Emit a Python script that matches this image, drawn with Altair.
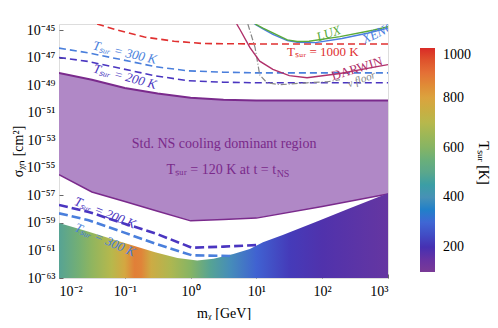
import altair as alt
import pandas as pd

# ---------------- data (log10 values) ----------------
# purple "standard NS cooling" region, sampled on common masses
pur_lx = [-2, -1.5, -1, -0.5, 0, 0.5, 1, 2, 3]
pur_hi = [-48.1, -48.6, -49.2, -49.6, -49.9, -50.05, -50.1, -50.1, -50.1]
pur_lo = [-55.5, -56.75, -57.45, -58.15, -58.85, -58.75, -58.65, -57.8, -56.9]

# coloured (temperature) region upper boundary
grad_lx = [-2, -1.56, -1.04, -0.54, -0.2, 0.1, 0.35, 0.65, 0.9, 1.1, 1.4, 1.92, 2.42, 3.0]
grad_ly = [-59.0, -59.63, -60.4, -61.13, -61.55, -61.72, -61.6, -61.25, -60.9, -60.4,
           -59.87, -58.9, -57.93, -56.85]
# surface temperature along the mass axis inside that region
t_lx = [-2, -1.7, -1.5, -1.2, -1.0, -0.85, -0.75, -0.6, -0.3, 0, 0.3, 0.6, 1.0, 1.5, 2.0, 3.0]
t_val = [480, 560, 620, 700, 780, 870, 860, 760, 680, 600, 480, 390, 290, 220, 180, 140]

# dashed isotherms
red1000_lx = [-1.42, -1.15, -0.7, -0.25, 0.2, 1, 3]
red1000_ly = [-44.55, -44.95, -45.5, -45.8, -45.97, -46.0, -46.0]
up300_lx = [-2, -1.56, -1.04, -0.54, -0.04, 0.5, 1, 3]
up300_ly = [-46.3, -46.64, -47.15, -47.65, -47.95, -48.05, -48.1, -48.1]
up200_lx = [-2, -1.56, -1.04, -0.54, -0.04, 0.5, 1, 3]
up200_ly = [-46.98, -47.27, -47.8, -48.31, -48.67, -48.78, -48.82, -48.82]
lo200_lx = [-2, -1.55, -1.04, -0.54, 0.02, 0.5, 1.05]
lo200_ly = [-57.7, -58.2, -59.0, -59.75, -60.8, -60.72, -60.6]
lo300_lx = [-2, -1.55, -1.04, -0.54, 0.02, 0.6]
lo300_ly = [-58.3, -58.8, -59.65, -60.5, -61.35, -61.4]

# direct detection curves
lux_lx = [0.98, 1.1, 1.25, 1.47, 1.62, 1.8, 2.27, 2.77, 3.0]
lux_ly = [-44.55, -44.85, -45.2, -45.7, -45.82, -45.8, -45.47, -45.0, -44.75]
xen_lx = [0.97, 1.1, 1.25, 1.47, 1.62, 1.9, 2.3, 2.7, 3.0]
xen_ly = [-44.55, -44.9, -45.3, -45.75, -45.88, -45.9, -45.6, -45.2, -44.85]
dar_lx = [0.7, 0.75, 0.9, 1.05, 1.25, 1.5, 1.77, 2.27, 2.77, 3.0]
dar_ly = [-44.55, -44.95, -46.25, -47.25, -47.85, -48.3, -48.45, -48.15, -47.7, -47.5]
flo_lx = [0.87, 0.98, 1.05, 1.16, 1.36, 1.77, 2.07, 2.27]
flo_ly = [-44.55, -46.27, -48.24, -48.82, -48.96, -48.82, -48.75, -48.6]

# tick exponents
x_ticks = [-2, -1, 0, 1, 2, 3]
y_ticks = [-45, -47, -49, -51, -53, -55, -57, -59, -61, -63]

# colour bar
cb_T = [100, 200, 300, 400, 500, 600, 700, 800, 900, 1000]
cb_col = ["#7a3a96", "#4630b2", "#3f67d4", "#4791b6", "#5aa78c", "#86b464",
          "#b7b84c", "#dba33e", "#e47036", "#d92b27"]
cb_ticks = [200, 400, 600, 800, 1000]

# labels: text, log m, log sigma, angle, colour, size, style
labels = [
    ("Tₛᵤᵣ = 300 K", -1.0, -46.64, 13, "#4a7fdc", 13, "italic"),
    ("Tₛᵤᵣ = 200 K", -1.0, -48.38, 15, "#4a35c0", 13, "italic"),
    ("Tₛᵤᵣ = 1000 K", 2.01, -46.56, 0, "#e03030", 13, "normal"),
    ("LUX", 2.10, -45.25, 340, "#5aaa3a", 13, "italic"),
    ("DARWIN", 2.53, -47.8, 343, "#b0306a", 13, "normal"),
    ("ν floor", 2.6, -48.6, 340, "#888888", 11, "italic"),
    ("Tₛᵤᵣ = 200 K", -1.30, -58.27, 22, "#4a35c0", 13, "italic"),
    ("Tₛᵤᵣ = 300 K", -1.30, -60.24, 24, "#4a7fdc", 13, "italic"),
    ("Std. NS cooling dominant region", 0.51, -53.25, 0, "#7a2a8a", 14, "normal"),
]

FONT = "Liberation Serif"
SUP = {"0": "⁰", "1": "¹", "2": "²", "3": "³", "4": "⁴", "5": "⁵", "6": "⁶",
       "7": "⁷", "8": "⁸", "9": "⁹", "-": "⁻"}


def sup(n):
    return "10" + "".join(SUP[c] for c in str(n))


def label_expr(exps):
    expr = "''"
    for e in exps:
        expr = f"round(log(datum.value)/LN10) == {e} ? '{sup(e)}' : " + expr
    return expr


def to_df(lx, ly):
    return pd.DataFrame({"m": [10 ** v for v in lx], "s": [10 ** v for v in ly]})


def hex2rgb(h):
    return [int(h[i:i + 2], 16) for i in (1, 3, 5)]


def cmap(t):
    for i in range(len(cb_T) - 1):
        if cb_T[i] <= t <= cb_T[i + 1]:
            f = (t - cb_T[i]) / (cb_T[i + 1] - cb_T[i])
            a, b = hex2rgb(cb_col[i]), hex2rgb(cb_col[i + 1])
            c = [round(a[k] + f * (b[k] - a[k])) for k in range(3)]
            return "#%02x%02x%02x" % tuple(c)
    return cb_col[0] if t < cb_T[0] else cb_col[-1]


xaxis = alt.Axis(values=[10 ** e for e in x_ticks], labelExpr=label_expr(x_ticks),
                 title="mᵪ [GeV]", offset=-4, tickSize=4, tickColor="#666",
                 domain=False, grid=False, labelPadding=6, labelFont=FONT,
                 labelFontSize=14, labelColor="black", titleFont=FONT,
                 titleFontSize=14, titleFontWeight="normal", titlePadding=8,
                 titleColor="black")
yaxis = alt.Axis(values=[10 ** e for e in y_ticks], labelExpr=label_expr(y_ticks),
                 title="σᵪₙ [cm²]", offset=-4, tickSize=4, tickColor="#666",
                 domain=False, grid=False, labelPadding=4, labelFont=FONT,
                 labelFontSize=14, labelColor="black", titleFont=FONT,
                 titleFontSize=14, titleFontWeight="normal", titlePadding=1,
                 titleColor="black")

X = alt.X("m:Q", scale=alt.Scale(type="log", domain=[1e-2, 1e3], nice=False), axis=xaxis)
Y = alt.Y("s:Q", scale=alt.Scale(type="log", domain=[1e-63, 10 ** -44.55], nice=False),
          axis=yaxis)

layers = []

# purple region
pur = pd.DataFrame({"m": [10 ** v for v in pur_lx], "s": [10 ** v for v in pur_hi],
                    "s2": [10 ** v for v in pur_lo]})
layers.append(alt.Chart(pur).mark_area(color="#b088c6", clip=True).encode(
    x=X, y=Y, y2=alt.Y2("s2:Q")))
layers.append(alt.Chart(to_df(pur_lx, pur_hi)).mark_line(
    color="#7a2a8c", strokeWidth=2, clip=True).encode(x=X, y=Y))
layers.append(alt.Chart(to_df(pur_lx, pur_lo)).mark_line(
    color="#7a2a8c", strokeWidth=1.5, clip=True).encode(x=X, y=Y))

# coloured region (fill gradient follows T along mass)
stops = [alt.GradientStop(offset=(lx + 2) / 5, color=cmap(t)) for lx, t in zip(t_lx, t_val)]
grad = to_df(grad_lx, grad_ly)
grad["s2"] = 1e-63
layers.append(alt.Chart(grad).mark_area(
    color=alt.LinearGradient(gradient="linear", stops=stops, x1=0, x2=1, y1=0, y2=0),
    clip=True).encode(x=X, y=Y, y2=alt.Y2("s2:Q")))


def line(lx, ly, color, width, dash=None):
    kw = dict(color=color, strokeWidth=width, clip=True)
    if dash:
        kw["strokeDash"] = dash
    return alt.Chart(to_df(lx, ly)).mark_line(**kw).encode(x=X, y=Y)


layers += [
    line(red1000_lx, red1000_ly, "#e03030", 1.6, [7, 4]),
    line(up300_lx, up300_ly, "#4a7fdc", 1.6, [7, 4]),
    line(up200_lx, up200_ly, "#4a35c0", 1.6, [7, 4]),
    line(lo200_lx, lo200_ly, "#4a35c0", 2.6, [9, 4]),
    line(lo300_lx, lo300_ly, "#4a7fdc", 2.6, [9, 4]),
    line(flo_lx, flo_ly, "#888888", 1.2, [6, 2, 1, 2]),
    line(dar_lx, dar_ly, "#b0306a", 1.4),
    line(xen_lx, xen_ly, "#4a7ee0", 1.4),
    line(lux_lx, lux_ly, "#5aaa3a", 1.4),
]

for txt, lx, ly, ang, col, size, style in labels:
    d = pd.DataFrame({"m": [10 ** lx], "s": [10 ** ly], "t": [txt]})
    layers.append(alt.Chart(d).mark_text(
        font=FONT, fontSize=size, fontStyle=style, color=col, angle=ang,
        align="center", baseline="middle").encode(x=X, y=Y, text="t:N"))

# XENON label clipped at the frame
dxen = pd.DataFrame({"m": [10 ** 2.62], "s": [10 ** -45.72], "t": ["XENON"]})
layers.append(alt.Chart(dxen).mark_text(
    font=FONT, fontSize=13, fontStyle="italic", color="#4a7ee0", angle=335,
    align="left", baseline="middle", clip=True).encode(x=X, y=Y, text="t:N"))

# second line of region text with NS subscript
d2 = pd.DataFrame({"m": [10 ** 1.3], "s": [10 ** -55.15], "t": ["Tₛᵤᵣ = 120 K at t = t"]})
layers.append(alt.Chart(d2).mark_text(
    font=FONT, fontSize=14, color="#7a2a8a", align="right", baseline="middle").encode(
    x=X, y=Y, text="t:N"))
d3 = pd.DataFrame({"m": [10 ** 1.3], "s": [10 ** -55.15], "t": ["NS"]})
layers.append(alt.Chart(d3).mark_text(
    font=FONT, fontSize=10, color="#7a2a8a", align="left", baseline="middle",
    dx=0.5, dy=4).encode(x=X, y=Y, text="t:N"))

# colour bar (legend) from a hidden layer
legend = alt.Legend(title=None, orient="none", legendX=361, legendY=24,
                    gradientLength=224, gradientThickness=15,
                    values=cb_ticks, format="d", labelFont=FONT,
                    labelFontSize=14, labelOffset=8, labelOverlap=False,
                    gradientStrokeWidth=0, direction="vertical", padding=0,
                    labelColor="black")
hid = pd.DataFrame({"m": [1.0, 1.0], "s": [1e-50, 1e-50], "T": [cb_T[0], cb_T[-1]]})
layers.append(alt.Chart(hid).mark_point(opacity=0, size=1).encode(
    x=X, y=Y,
    color=alt.Color("T:Q", scale=alt.Scale(domain=[cb_T[0], cb_T[-1]], range=cb_col),
                    legend=legend)))

# colour bar title
dt = pd.DataFrame({"t": ["Tₛᵤᵣ [K]"]})
layers.append(alt.Chart(dt).mark_text(
    font=FONT, fontSize=14, color="black", angle=90, align="center",
    baseline="middle").encode(x=alt.value(424), y=alt.value(139), text="t:N"))

chart = alt.layer(*layers).properties(
    width=329, height=254,
    padding={"left": 51, "top": 16, "right": 102, "bottom": 42},
    autosize=alt.AutoSizeParams(type="none"),
).configure_view(stroke="#888888", strokeWidth=1).configure(background="white")

chart.save("out.html", embed_options={"renderer": "svg", "actions": False})
